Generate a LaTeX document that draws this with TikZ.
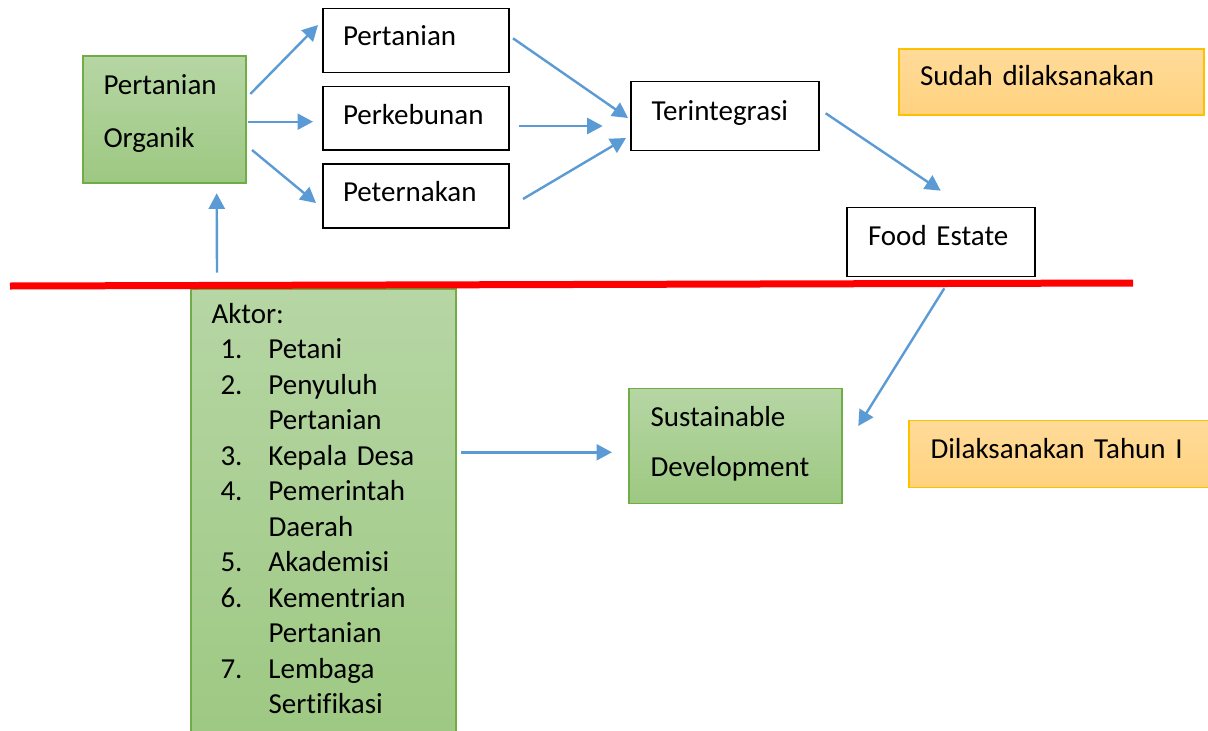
\documentclass[tikz,border=0pt]{standalone}
\usepackage{fontspec}
\setmainfont{Carlito}[Ligatures=NoCommon]
\usetikzlibrary{arrows.meta,calc}
\definecolor{arrowblue}{HTML}{5B9BD5}
\definecolor{greenedge}{HTML}{70AD47}
\definecolor{greentop}{RGB}{182,214,164}
\definecolor{greenbot}{RGB}{157,200,130}
\definecolor{orangeedge}{HTML}{FFC000}
\definecolor{orangetop}{RGB}{255,219,154}
\definecolor{orangebot}{RGB}{255,210,126}
% struts fixing the space above the first baseline and below the last one
\newcommand\hstr[1]{\rule{0pt}{#1pt}}
\newcommand\dstr[1]{\rule[-#1pt]{0pt}{#1pt}}
% numbered entry of the actor list, and its continuation line
\newcommand\itm[2]{\hspace*{9pt}\makebox[48pt][l]{#1}#2}
\newcommand\cnt[1]{\hspace*{57pt}#1}
\begin{document}
\begin{tikzpicture}[x=1pt,y=-1pt,
  every node/.style={font=\fontsize{29}{35.5}\selectfont, anchor=north west,
    inner ysep=0pt, outer sep=0pt, align=left},
  plainbox/.style={draw=black, line width=1.3pt, fill=white, inner xsep=20pt},
  greenbox/.style={draw=greenedge, line width=1.3pt, top color=greentop,
    bottom color=greenbot, inner xsep=20.5pt},
  orangebox/.style={draw=orangeedge, line width=1.3pt, top color=orangetop,
    bottom color=orangebot, inner xsep=21pt},
  arr/.style={draw=arrowblue, line width=2.4pt, -{Triangle[length=15.5pt,width=16pt]}},
  divider/.style={draw=red, line width=7pt}]
\useasboundingbox (0,0) rectangle (1208,731);
\clip (0,0) rectangle (1208,731);

% boxes above the line
\node[greenbox, text width=122pt, font=\fontsize{29}{53.3}\selectfont] (po) at (83,56)
  {\hstr{38}Pertanian\\Organik\dstr{35.7}};
\node[plainbox, text width=146pt] (p1) at (323,8.5) {\hstr{37.2}Pertanian\dstr{26.6}};
\node[plainbox, text width=146pt] (p2) at (323,86.7) {\hstr{37.3}Perkebunan\dstr{26}};
\node[plainbox, text width=146pt] (p3) at (323,164) {\hstr{37.7}Peternakan\dstr{26.3}};
\node[plainbox, text width=147pt, inner xsep=20.5pt] (ti) at (631,81.7) {\hstr{39}Terintegrasi\dstr{30}};
\node[plainbox, text width=146pt, inner xsep=21pt] (fe) at (847,207.7) {\hstr{38}Food Estate\dstr{31}};
\node[orangebox, text width=263pt] (sd) at (899,49) {\hstr{36}Sudah dilaksanakan\dstr{30}};

% boxes below the line
\node[greenbox, text width=224pt] (ak) at (191,289) {\hstr{34}Aktor:\\
  \itm{1.}{Petani}\\
  \itm{2.}{Penyuluh}\\
  \cnt{Pertanian}\\
  \itm{3.}{Kepala Desa}\\
  \itm{4.}{Pemerintah}\\
  \cnt{Daerah}\\
  \itm{5.}{Akademisi}\\
  \itm{6.}{Kementrian}\\
  \cnt{Pertanian}\\
  \itm{7.}{Lembaga}\\
  \cnt{Sertifikasi}\dstr{30}};
\node[greenbox, text width=170pt, inner xsep=21.5pt, font=\fontsize{29}{50}\selectfont] (sus) at (629,388.3)
  {\hstr{38.4}Sustainable\\Development\dstr{26.6}};
\node[orangebox, text width=258pt, inner xsep=21.5pt] (dt) at (909,420.7) {\hstr{37.6}Dilaksanakan Tahun I\dstr{29}};

% dividing line
\draw[divider] (10,286) -- (1133,283);

% connectors
\draw[arr] ($(po.north east)+(4.3,38)$) -- ($(p1.north west)+(-5,16.5)$);
\draw[arr] ($(po.north east)+(2.3,65.7)$) -- ($(p2.north west)+(-10,35)$);
\draw[arr] ($(po.north east)+(6,94)$) -- ($(p3.north west)+(-7,39)$);
\draw[arr] ($(ak.north west)+(26,-16.3)$) -- ($(po.south west)+(133.7,10.3)$);
\draw[arr] ($(p1.north east)+(4,29.8)$) -- ($(ti.north west)+(-3,36.3)$);
\draw[arr] ($(p2.north east)+(10,39.3)$) -- ($(ti.north west)+(-28.3,44.3)$);
\draw[arr] ($(p3.north east)+(14,35)$) -- ($(ti.north west)+(-5,56.3)$);
\draw[arr] ($(ti.north east)+(6.7,31.6)$) -- ($(fe.north west)+(93.7,-17)$);
\draw[arr] ($(fe.south west)+(97.3,11.6)$) -- ($(sus.north east)+(16.3,37.7)$);
\draw[arr] ($(ak.north east)+(5,163.3)$) -- ($(sus.north west)+(-17,64)$);
\end{tikzpicture}
\end{document}
